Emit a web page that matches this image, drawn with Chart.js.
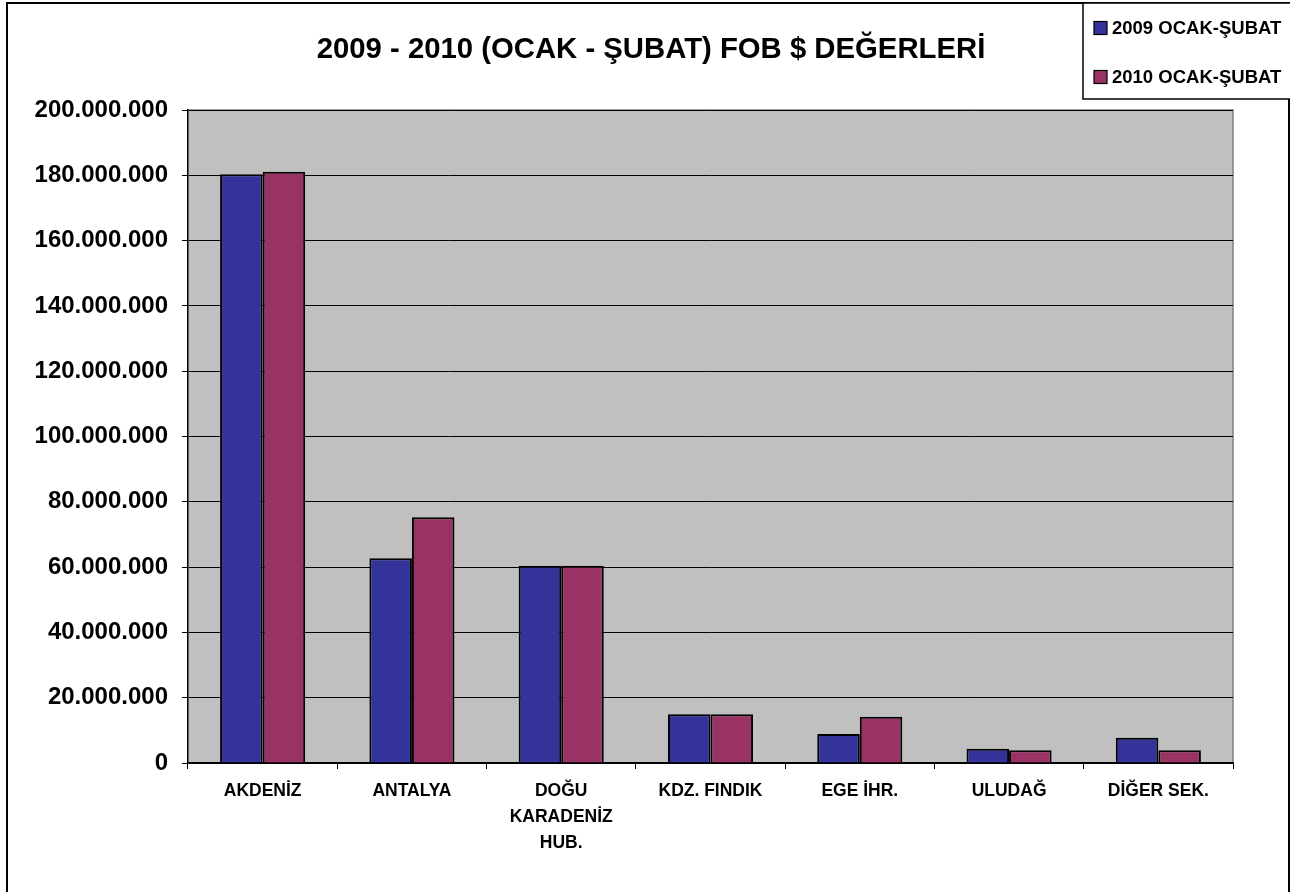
<!DOCTYPE html>
<html>
<head>
<meta charset="utf-8">
<script src="https://cdn.jsdelivr.net/npm/chart.js@4.4.1/dist/chart.umd.min.js"></script>
<style>
  html, body { margin: 0; padding: 0; background: #ffffff; }
  #wrap { position: relative; width: 1290px; height: 892px; }
</style>
</head>
<body>
<div id="wrap"><canvas id="c" width="1290" height="892"></canvas></div>
<script>
// ---- data ----
const chartTitle = '2009 - 2010 (OCAK - ŞUBAT) FOB $ DEĞERLERİ';
const categories = ['AKDENİZ', 'ANTALYA', ['DOĞU', 'KARADENİZ', 'HUB.'], 'KDZ. FINDIK', 'EGE İHR.', 'ULUDAĞ', 'DİĞER SEK.'];
const seriesNames = ['2009 OCAK-ŞUBAT', '2010 OCAK-ŞUBAT'];
const values2009 = [180300000, 62700000, 60400000, 14900000, 8900000, 4400000, 7700000];
const values2010 = [181100000, 75300000, 60400000, 14900000, 14200000, 3900000, 3900000];
const yMin = 0, yMax = 200000000, yStep = 20000000;

const colors = ['#333399', '#993366'];
const FONT = '"Liberation Sans", Arial, sans-serif';

function fmt(v) {
  return String(Math.round(v)).replace(/\B(?=(\d{3})+(?!\d))/g, '.');
}

const decor = {
  id: 'decor',
  beforeDraw(chart) {
    const ctx = chart.ctx, a = chart.chartArea;
    ctx.save();
    ctx.fillStyle = '#ffffff';
    ctx.fillRect(0, 0, chart.width, chart.height);
    // outer border
    ctx.strokeStyle = '#000000';
    ctx.lineWidth = 2;
    ctx.beginPath();
    ctx.moveTo(7, 900); ctx.lineTo(7, 3); ctx.lineTo(1289, 3); ctx.lineTo(1289, 900);
    ctx.stroke();
    // plot background
    ctx.fillStyle = '#C0C0C0';
    ctx.fillRect(a.left, a.top, a.right - a.left, a.bottom - a.top);
    ctx.strokeStyle = '#808080';
    ctx.lineWidth = 1.5;
    ctx.beginPath();
    ctx.moveTo(a.left, a.top); ctx.lineTo(a.right, a.top); ctx.lineTo(a.right, a.bottom);
    ctx.stroke();
    ctx.restore();
  },
  afterDraw(chart) {
    const ctx = chart.ctx;
    ctx.save();
    // title
    ctx.fillStyle = '#000000';
    ctx.font = 'bold 29.3px ' + FONT;
    ctx.textAlign = 'center';
    ctx.textBaseline = 'alphabetic';
    ctx.fillText(chartTitle, 651, 58);
    // legend box
    ctx.fillStyle = '#ffffff';
    ctx.fillRect(1083, 3, 220, 96);
    ctx.strokeStyle = '#000000';
    ctx.lineWidth = 1.5;
    ctx.strokeRect(1083, 3, 220, 96);
    ctx.font = 'bold 18.5px ' + FONT;
    ctx.textAlign = 'left';
    const rows = [28, 77];
    chart.data.datasets.forEach((ds, i) => {
      const cy = rows[i];
      ctx.fillStyle = ds.backgroundColor;
      ctx.fillRect(1094, cy - 6.5, 13, 13);
      ctx.strokeStyle = '#000000';
      ctx.lineWidth = 1.2;
      ctx.strokeRect(1094, cy - 6.5, 13, 13);
      ctx.fillStyle = '#000000';
      ctx.textBaseline = 'middle';
      ctx.fillText(ds.label, 1112, cy + 0.5);
    });
    ctx.restore();
  }
};

new Chart(document.getElementById('c'), {
  type: 'bar',
  data: {
    labels: categories,
    datasets: [
      { label: seriesNames[0], data: values2009, backgroundColor: colors[0], borderColor: '#000000', borderWidth: 2, borderSkipped: 'bottom' },
      { label: seriesNames[1], data: values2010, backgroundColor: colors[1], borderColor: '#000000', borderWidth: 2, borderSkipped: 'bottom' }
    ]
  },
  options: {
    responsive: false,
    animation: false,
    devicePixelRatio: 1,
    layout: { padding: { top: 110, left: 0, right: 57, bottom: 0 } },
    plugins: {
      legend: { display: false },
      title: { display: false },
      tooltip: { enabled: false }
    },
    datasets: { bar: { categoryPercentage: 0.57, barPercentage: 1.0 } },
    scales: {
      x: {
        offset: true,
        grid: { display: true, drawOnChartArea: false, drawTicks: true, tickLength: 6, color: '#000000', offset: true },
        border: { display: true, color: '#000000', width: 1.5 },
        ticks: {
          color: '#000000',
          font: { family: FONT, size: 17.5, weight: 'bold', lineHeight: 1.5 },
          padding: 9,
          maxRotation: 0,
          autoSkip: false
        },
        afterFit(scale) { scale.height = 129; }
      },
      y: {
        min: yMin, max: yMax,
        grid: { color: '#000000', lineWidth: 1, tickLength: 6, drawTicks: true },
        border: { display: true, color: '#000000', width: 1.5 },
        ticks: {
          stepSize: yStep,
          color: '#000000',
          padding: 14,
          font: { family: FONT, size: 24, weight: 'bold' },
          callback: (v) => fmt(v)
        },
        afterFit(scale) { scale.width = 188; }
      }
    }
  },
  plugins: [decor]
});
</script>
</body>
</html>
